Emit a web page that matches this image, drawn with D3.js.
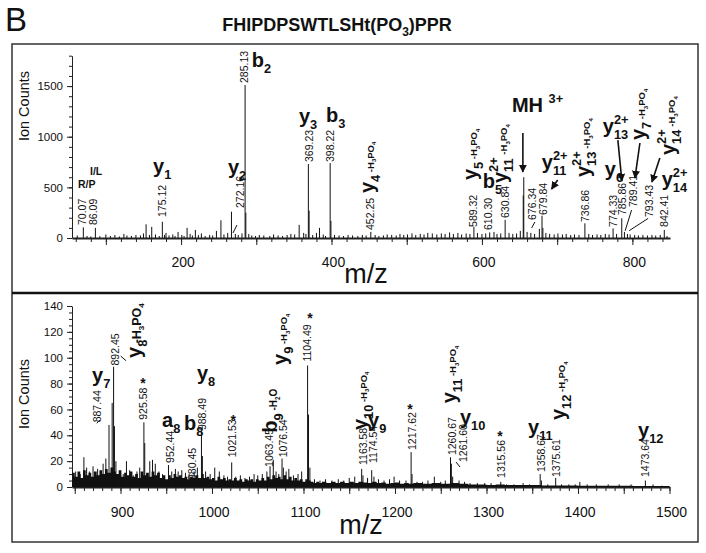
<!DOCTYPE html>
<html>
<head>
<meta charset="utf-8">
<script src="https://cdn.jsdelivr.net/npm/d3@7"></script>
<style>
  body { margin: 0; background: #fff; }
  text { fill: #111; }
</style>
</head>
<body>
<script>
// ---- data: [m/z, ion counts] ----
var topPeaks = [[70.07,105],[86.09,100],[153.5,135],[161,110],[175.12,160],[180,50],[196,60],[208,100],[219,80],
  [247,70],[253,175],[267,260],[272.16,40],[285.13,1510],[286.1,250],[357,130],[363,50],[369.23,730],[370.2,270],
  [380,50],[384,100],[398.22,740],[399.2,170],[452.25,60],[589.32,110],[610.30,55],[630.84,180],[654.9,420],
  [655.6,600],[676.34,90],[679.84,220],[681,100],[736.86,145],[774.33,95],[785.86,195],[789.41,60],[793.43,40],[842.41,80]];

var topNoise = [[62,25],[75,20],[80,15],[92,18],[100,35],[106,20],[112,30],[118,15],[124,40],[128,25],[134,20],[140,30],
  [146,25],[150,45],[158,30],[166,35],[171,20],[178,30],[184,25],[189,35],[192,20],[201,30],[204,20],[212,40],[215,25],
  [223,30],[227,45],[232,20],[238,30],[242,25],[257,35],[262,50],[276,30],[281,45],[290,40],[294,25],[299,20],[304,30],
  [310,25],[318,20],[323,35],[329,25],[335,20],[341,30],[346,40],[351,35],[366,40],[375,30],[389,35],[392,20],[404,30],
  [410,25],[416,20],[422,30],[428,25],[435,20],[441,30],[446,25],[458,30],[463,20],[469,25],[474,35],[480,30],[486,25],
  [491,40],[496,30],[501,35],[507,45],[512,30],[518,40],[523,35],[528,50],[534,45],[540,35],[546,45],[551,40],[557,55],
  [562,40],[568,50],[573,35],[579,45],[584,40],[594,50],[600,40],[605,45],[616,60],[620,40],[625,45],[636,50],[641,40],
  [646,45],[651,70],[660,60],[665,50],[670,40],[685,50],[690,40],[696,35],[701,45],[707,35],[712,40],[718,30],[723,35],
  [729,30],[742,40],[747,30],[753,35],[758,30],[764,40],[769,35],[779,40],[797,35],[803,30],[808,25],[814,30],[820,25],
  [826,30],[831,25],[837,30],[846,20]];

var bottomPeaks = [[851,12],[856,10],[860,23],[863,15],[866,12],[870,16],[875,14],[878,10],[881,18],[884,22],
  [887.44,48],[890.9,65],[892.45,93],[893.4,47],[895,20],[899,12],[903,10],[906.5,20],[910,13],[914,9],[918,12],
  [921,15],[925.58,50],[926.5,34],[929,10],[932,20],[935,21],[938,18],[942,12],[946,10],[952.44,17],[956,12],[960,14],
  [963,12],[967,13],[971,11],[975,10],[980.45,12],[984,15],[988.49,43],[989.5,24],[993,12],[998,10],[1003,15],
  [1008,12],[1013,9],[1017,8],[1021.53,19],[1026,8],[1031,9],[1036,7],[1041,8],[1046,10],[1050,9],[1055,10],[1060,12],
  [1063.45,16],[1067,21],[1070,12],[1073,10],[1076.54,22],[1078,15],[1081,12],[1084,14],[1089,9],[1094,10],[1098,12],
  [1104.49,94],[1105.5,56],[1107,15],[1112,6],[1118,5],[1124,6],[1131,5],[1138,6],[1144,5],[1150,7],[1156,8],
  [1163.58,14],[1165,9],[1170,7],[1174.54,13],[1177,8],[1182,6],[1188,5],[1194,6],[1199,8],[1205,5],[1212,5],
  [1217.62,27],[1218.6,10],[1224,4],[1230,4],[1236,5],[1243,8],[1250,4],[1255,5],[1260.67,23],[1261.6,18],[1263,8],
  [1270,5],[1276,4],[1282,3],[1290,3],[1298,3],[1305,3],[1315.56,4],[1322,2],[1330,2],[1340,3],[1347,2],[1358.67,10],
  [1360,5],[1367,2],[1375.61,7],[1382,2],[1390,2],[1397,2],[1402,4],[1410,2],[1420,2],[1433,2],[1445,2],[1458,2],
  [1473.64,5],[1482,2],[1492,1]];

var bottomGrass = [[847,11],[850,8],[853,12],[856,7],[859,13],[862,9],[865,11],[868,8],[871,12],[874,9],[877,13],
  [880,10],[883,14],[886,11],[889,15],[892,12],[895,10],[898,13],[901,8],[904,11],[907,9],[910,12],[913,8],[916,10],
  [919,7],[922,12],[925,9],[928,11],[931,8],[934,12],[937,9],[940,11],[943,7],[946,9],[949,6],[952,9],[955,7],[958,10],
  [961,8],[964,9],[967,7],[970,8],[973,6],[976,8],[979,7],[982,9],[985,7],[988,10],[991,7],[994,8],[997,6],[1000,7],
  [1003,5],[1006,8],[1009,6],[1012,7],[1015,5],[1018,6],[1021,5],[1024,7],[1027,5],[1030,6],[1033,4],[1036,6],[1039,5],
  [1042,6],[1045,4],[1048,6],[1051,5],[1054,7],[1057,5],[1060,8],[1063,6],[1066,9],[1069,7],[1072,8],[1075,6],[1078,9],
  [1081,6],[1084,8],[1087,5],[1090,7],[1093,5],[1096,6],[1099,4],[1102,6],[1105,5],[1108,4],[1111,3],[1114,4],[1117,3],
  [1120,4],[1125,3],[1130,4],[1135,3],[1140,4],[1145,3],[1150,4],[1155,3],[1160,4],[1165,3.5],[1170,3],[1175,4],
  [1180,3],[1185,3.5],[1190,2.5],[1195,3],[1200,3.5],[1205,2.5],[1210,3],[1215,2.5],[1220,3],[1230,2.5],[1240,3],
  [1250,2.5],[1260,3],[1270,2.5],[1280,2],[1290,2],[1300,1.5],[1310,2],[1320,1.5],[1340,1.5],[1360,1.2],[1380,1.2],
  [1400,1],[1430,1],[1460,0.8],[1500,0.8]];

// tick labels
var topXLabels = [200, 400, 600, 800];
var topYLabels = [0, 500, 1000, 1500];
var bottomXLabels = [900, 1000, 1100, 1200, 1300, 1400, 1500];
var bottomYLabels = [0, 20, 40, 60, 80, 100, 120, 140];

// peak value labels: [m/z, counts at label foot, text]
var topNumLabels = [[68.5,128,'70.07'],[83,128,'86.09'],[174.5,207,'175.12'],[278.3,296,'272.16'],[284,1530,'285.13'],
  [370,750,'369.23'],[398,750,'398.22'],[451,79,'452.25'],[589,109,'589.32'],[609,79,'610.30'],[630.5,197,'630.84'],
  [666.4,178,'676.34'],[681,227,'679.84'],[736.8,158,'736.86'],[774,109,'774.33'],[786,227,'785.86'],
  [800.6,306,'789.41'],[823,207,'793.43'],[843,109,'842.41']];
var bottomNumLabels = [[874.3,50,'887.44'],[894,94,'892.45'],[924.6,52,'925.58'],[954,18.6,'952.44'],[979,5.4,'980.45'],
  [989,44,'988.49'],[1021.9,23,'1021.53'],[1062.3,15.5,'1063.45'],[1077.6,23,'1076.54'],[1103.8,97,'1104.49'],
  [1165,17,'1163.58'],[1176,18.6,'1174.54'],[1218.6,28.6,'1217.62'],[1262.3,24.7,'1260.67'],[1274.3,19.3,'1261.60'],
  [1315.9,7,'1315.56'],[1359.6,11.6,'1358.67'],[1376,7.7,'1375.61'],[1473.2,7.7,'1473.64']];
var bottomStars = [[924.6,83],[1023.3,54],[1107,133],[1216.4,63],[1314.8,42]];

// fragment ion labels: [m/z, counts, label, tail size]
var topIons = [[162.7,642,'y_{1}'],[262.3,632,'y_{2}'],[294,1688,'b_{2}'],[356.7,1135,'y_{3}'],[392.6,1145,'b_{3}'],
  [601,494,'b_{5}'],[639.8,1244,'MH ^{3+}'],[679.6,681,'y_{11}^{2+}'],[760.7,1037,'y_{13}^{2+}'],[763.4,612,'y_{6}'],
  [839,513,'y_{14}^{2+}']];
var topSmallIons = [[63,494,'R/P'],[78.9,622,'I/L']];
var topIonsRot = [[456,444,'y_{4}| -H_{3}PO_{4}'],[593.3,572,'y_{5}| -H_{3}PO_{4}'],[633,543,'y_{11}^{2+}| -H_{3}PO_{4}'],
  [743.5,602,'y_{13}^{2+}| -H_{3}PO_{4}'],[816.6,967,'y_{7}| -H_{3}PO_{4}'],[856.4,819,'y_{14}^{2+}| -H_{3}PO_{4}']];
var bottomIons = [[868.9,81.2,'y_{7}'],[945.4,46.4,'a_{8}'],[969.4,44,'b_{8}'],[983.6,82.8,'y_{8}'],[1170.5,46.4,'y_{9}'],
  [1271,48.7,'y_{10}'],[1345.4,41,'y_{11}'],[1465.6,38.7,'y_{12}']];
var bottomIonsRot = [[922,99.8,'y_{8}<| -H_{3}PO_{4}',12.5],[1070.6,42,'b_{9}| -H_{2}O',10],[1081.6,94.4,'y_{9}| -H_{3}PO_{4}',9.5],
  [1169,44,'y_{10}| -H_{3}PO_{4}',9.5],[1266.7,64.7,'y_{11}| -H_{3}PO_{4}',9.5],[1385.8,51.8,'y_{12}| -H_{3}PO_{4}',9.5]];

// leader lines and arrows: [m/z1, counts1, m/z2, counts2]
var topLeaders = [[274.3,128,269,49],[666,99,670.4,158],[798.9,276,790.4,72],[821,194,795.7,72]];
var topArrows = [[654.4,1037,654.4,652],[700.6,573,692.6,484],[780.7,967,786,563],[810,938,803.4,592],[836.5,790,826,553]];
var bottomLeaders = [[874,49.3,877.6,51.8],[900.2,101.3,906,97.7],[1266.7,19.3,1271,15.5]];

// ---- layout ----
var W = 706, H = 553;
var svg = d3.select('body').append('svg')
  .attr('width', W).attr('height', H)
  .style('font-family', '"Liberation Sans", Arial, Helvetica, sans-serif');

svg.append('defs').append('marker')
  .attr('id', 'head').attr('viewBox', '0 0 10 10').attr('refX', 9).attr('refY', 5)
  .attr('markerWidth', 5).attr('markerHeight', 5).attr('markerUnits', 'strokeWidth').attr('orient', 'auto')
  .append('path').attr('d', 'M0,0L10,5L0,10Z').attr('fill', '#111');

svg.append('text').attr('x', 5).attr('y', 31).attr('font-size', 33).text('B');
var title = svg.append('text').attr('x', 337).attr('y', 31).attr('text-anchor', 'middle')
  .attr('font-size', 18).attr('font-weight', 'bold');
title.append('tspan').text('FHIPDPSWTLSHt(PO');
title.append('tspan').attr('font-size', 12).attr('dy', 5).text('3');
title.append('tspan').attr('dy', -5).text(')PPR');

// panel frames
svg.append('rect').attr('x', 12).attr('y', 44).attr('width', 686).attr('height', 498)
  .attr('fill', 'none').attr('stroke', '#333').attr('stroke-width', 1.5);
svg.append('line').attr('x1', 12).attr('x2', 698).attr('y1', 293).attr('y2', 293)
  .attr('stroke', '#111').attr('stroke-width', 2.5);

var xTop = d3.scaleLinear().domain([55, 850]).range([72, 670]);
var yTop = d3.scaleLinear().domain([0, 1800]).range([238, 55.7]);
var xBot = d3.scaleLinear().domain([847, 1500]).range([72, 669.5]);
var yBot = d3.scaleLinear().domain([0, 140]).range([487, 306]);

// draws label markup: plain text, _{sub}, ^{sup}, | switches to small font, < resets to script start
function rich(g, spec, big, small) {
  var re = /_\{([^}]*)\}|\^\{([^}]*)\}|(\|)|(<)|([^_^|<]+)/g, m;
  var x = 0, size = big, prevScript = false, sStart = 0, sEnd = 0;
  while ((m = re.exec(spec)) !== null) {
    if (m[3]) { size = small; prevScript = false; continue; }
    if (m[4]) { x = sStart; prevScript = false; continue; }
    if (m[1] !== undefined || m[2] !== undefined) {
      var isSub = m[1] !== undefined;
      if (!prevScript) { sStart = x; sEnd = x; }
      var el = g.append('text').attr('x', sStart).attr('y', isSub ? size * 0.3 : -size * 0.45)
        .attr('font-size', size * 0.64).attr('font-weight', 'bold').text(isSub ? m[1] : m[2]);
      sEnd = Math.max(sEnd, sStart + el.node().getComputedTextLength());
      x = sEnd; prevScript = true;
    } else {
      var t = g.append('text').attr('x', x).attr('y', 0).attr('font-size', size)
        .attr('font-weight', 'bold').style('white-space', 'pre').text(m[5]);
      x += t.node().getComputedTextLength(); prevScript = false;
    }
  }
}

function drawPanel(o) {
  var g = svg.append('g');
  // minor/major ticks
  g.append('g').attr('transform', 'translate(0,' + o.y(0) + ')')
    .call(d3.axisBottom(o.x).tickValues(o.xMinor).tickSize(4).tickSizeOuter(0).tickFormat(''))
    .call(function (a) { a.select('.domain').attr('stroke-width', 2).attr('stroke', '#222'); });
  g.append('g').attr('transform', 'translate(0,' + o.y(0) + ')')
    .call(d3.axisBottom(o.x).tickValues(o.xMajor).tickSize(7).tickSizeOuter(0).tickFormat(''))
    .call(function (a) { a.select('.domain').remove(); });
  g.selectAll('.xl').data(o.xLabels).enter().append('text')
    .attr('x', function (d) { return o.x(d) + 2; }).attr('y', o.y(0) + o.xLabelDy)
    .attr('text-anchor', 'middle').attr('font-size', 14).text(function (d) { return d; });

  g.append('g').attr('transform', 'translate(72,0)')
    .call(d3.axisLeft(o.y).tickValues(o.yMinor).tickSize(3).tickSizeOuter(0).tickFormat(''))
    .call(function (a) { a.select('.domain').attr('stroke', '#222'); });
  g.append('g').attr('transform', 'translate(72,0)')
    .call(d3.axisLeft(o.y).tickValues(o.yLabels).tickSize(5).tickPadding(4).tickSizeOuter(0).tickFormat(d3.format('d')))
    .call(function (a) {
      a.select('.domain').remove();
      a.selectAll('text').attr('font-size', 11.5).attr('font-family', '"Liberation Sans", Arial, sans-serif').attr('fill', '#111');
    });
  g.selectAll('.tick line').attr('stroke', '#222');

  g.append('text').attr('transform', 'translate(24,' + o.yLabelY + ') rotate(-90)')
    .attr('text-anchor', 'middle').attr('dy', '0.35em').attr('font-size', 14.5).text('Ion Counts');
  g.append('text').attr('x', o.mzX).attr('y', o.mzY).attr('text-anchor', 'middle')
    .attr('font-size', 27).text('m/z');

  // spectrum
  if (o.grass) {
    g.append('path').datum(o.grass)
      .attr('d', d3.area().curve(d3.curveStepAfter)
        .x(function (d) { return o.x(d[0]); }).y0(o.y(0)).y1(function (d) { return o.y(d[1]); }))
      .attr('fill', '#111');
  }
  g.selectAll('.pk').data(o.noise.concat(o.peaks)).enter().append('line')
    .attr('x1', function (d) { return o.x(d[0]); }).attr('x2', function (d) { return o.x(d[0]); })
    .attr('y1', o.y(0)).attr('y2', function (d) { return o.y(d[1]); })
    .attr('stroke', '#111').attr('stroke-width', 1);

  // numeric labels
  g.selectAll('.nl').data(o.numLabels).enter().append('text')
    .attr('transform', function (d) { return 'translate(' + o.x(d[0]) + ',' + o.y(d[1]) + ') rotate(-90)'; })
    .attr('dy', '0.35em').attr('font-size', 10.5).text(function (d) { return d[2]; });

  (o.stars || []).forEach(function (s) {
    g.append('text').attr('x', o.x(s[0])).attr('y', o.y(s[1]) + 8).attr('text-anchor', 'middle')
      .attr('font-size', 14).attr('font-weight', 'bold').text('*');
  });

  o.leaders.forEach(function (l) {
    g.append('line').attr('x1', o.x(l[0])).attr('y1', o.y(l[1])).attr('x2', o.x(l[2])).attr('y2', o.y(l[3]))
      .attr('stroke', '#111').attr('stroke-width', 1);
  });
  (o.arrows || []).forEach(function (l) {
    g.append('line').attr('x1', o.x(l[0])).attr('y1', o.y(l[1])).attr('x2', o.x(l[2])).attr('y2', o.y(l[3]))
      .attr('stroke', '#111').attr('stroke-width', 1.6).attr('marker-end', 'url(#head)');
  });

  o.ions.forEach(function (d) {
    rich(g.append('g').attr('transform', 'translate(' + o.x(d[0]) + ',' + o.y(d[1]) + ')'), d[2], 20, 9.5);
  });
  (o.smallIons || []).forEach(function (d) {
    rich(g.append('g').attr('transform', 'translate(' + o.x(d[0]) + ',' + o.y(d[1]) + ')'), d[2], 10.5, 10.5);
  });
  o.ionsRot.forEach(function (d) {
    rich(g.append('g').attr('transform', 'translate(' + o.x(d[0]) + ',' + o.y(d[1]) + ') rotate(-90)'), d[2], 20, d[3] || 9.5);
  });
}

drawPanel({
  x: xTop, y: yTop,
  xMinor: d3.range(60, 850, 20), xMajor: d3.range(100, 850, 100), xLabels: topXLabels, xLabelDy: 29,
  yMinor: d3.range(0, 1801, 100), yLabels: topYLabels, yLabelY: 106, mzX: 366, mzY: 283,
  peaks: topPeaks, noise: topNoise, numLabels: topNumLabels, leaders: topLeaders, arrows: topArrows,
  ions: topIons, smallIons: topSmallIons, ionsRot: topIonsRot
});
drawPanel({
  x: xBot, y: yBot,
  xMinor: d3.range(850, 1501, 10), xMajor: d3.range(850, 1501, 50), xLabels: bottomXLabels, xLabelDy: 30,
  yMinor: d3.range(0, 141, 5), yLabels: bottomYLabels, yLabelY: 394, mzX: 361, mzY: 534,
  peaks: bottomPeaks, noise: [], grass: bottomGrass, numLabels: bottomNumLabels, stars: bottomStars,
  leaders: bottomLeaders, ions: bottomIons, ionsRot: bottomIonsRot
});
</script>
</body>
</html>
